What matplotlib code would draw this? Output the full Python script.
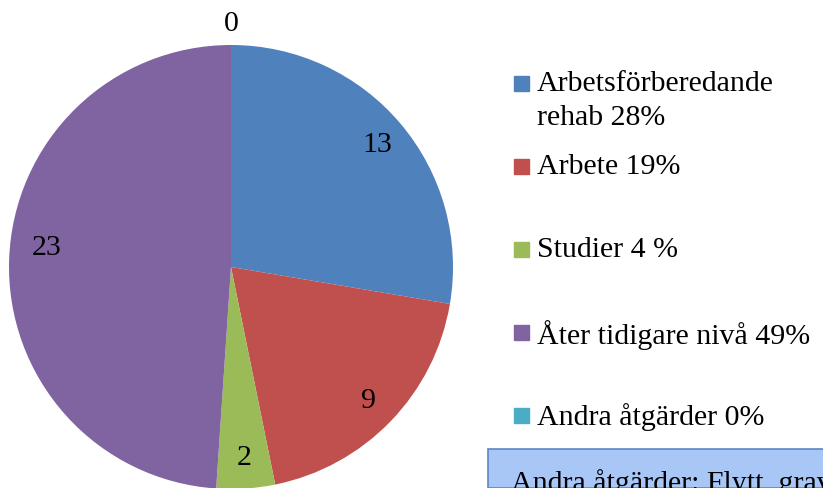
import matplotlib.pyplot as plt
from matplotlib.patches import Rectangle

categories = ["Arbetsförberedande\nrehab 28%", "Arbete 19%", "Studier 4 %",
              "Åter tidigare nivå 49%", "Andra åtgärder 0%"]
values = [13, 9, 2, 23, 0]
colors = ["#4F81BD", "#C0504D", "#9BBB59", "#8064A2", "#4BACC6"]
note = "Andra åtgärder: Flytt, graviditet"

plt.rcParams["font.family"] = ["Liberation Serif", "DejaVu Serif"]
W, H = 823, 489
fs = 21.5
fig = plt.figure(figsize=(W / 100, H / 100), dpi=100)

# pie axes: center (231, 268) px, radius 222 px
cx, cy, r = 231, 268, 222
ax = fig.add_axes([(cx - r) / W, (H - cy - r) / H, 2 * r / W, 2 * r / H])
wedges, texts = ax.pie(values, labels=[str(v) for v in values], colors=colors,
                       startangle=90, counterclock=False, labeldistance=0.86,
                       textprops=dict(fontsize=fs, ha="center", va="center"))
texts[3].set_position((-0.83, 0.09))
texts[4].set_position((0, 1.1))
ax.set_xlim(-1, 1)
ax.set_ylim(-1, 1)
ax.set_aspect("auto")

# legend, drawn by hand to keep Excel-like spacing
for i, (lab, col) in enumerate(zip(categories, colors)):
    ytop = 71 + 83 * i
    fig.patches.append(Rectangle((514 / W, 1 - (ytop + 21) / H), 15 / W, 15 / H,
                                 transform=fig.transFigure, color=col))
    fig.text(537 / W, 1 - ytop / H, lab, fontsize=fs, va="top", ha="left",
             linespacing=1.4)

# note box (cut off at the figure edge)
fig.patches.append(Rectangle((488 / W, 0), 400 / W, 39 / H, transform=fig.transFigure,
                             facecolor="#A8C6F6", edgecolor="#5B87C7", lw=1.2))
fig.text(511 / W, -8 / H, note, fontsize=fs, va="bottom", ha="left")

fig.savefig("out.png", dpi=100)
